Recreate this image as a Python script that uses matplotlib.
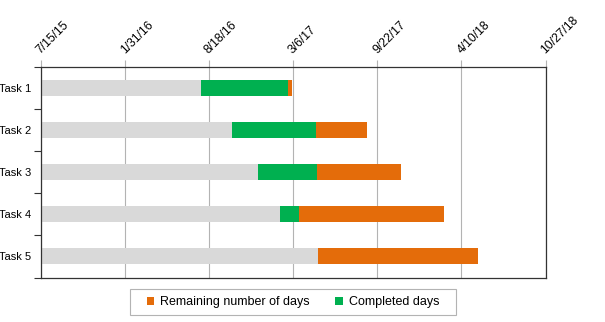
import datetime as dt

import matplotlib
matplotlib.use("Agg")
import matplotlib.pyplot as plt
from matplotlib.patches import Rectangle
from matplotlib.ticker import FixedLocator, FuncFormatter, MultipleLocator

plt.rcParams['font.family'] = ['Liberation Sans', 'DejaVu Sans']

# project data, in days counted from the first date on the axis
origin = dt.date(2015, 7, 15)
tasks = ['Task 1', 'Task 2', 'Task 3', 'Task 4', 'Task 5']
start_days = [382, 456, 517, 570, 659]
completed_days = [206, 199, 140, 44, 0]
remaining_days = [9, 121, 200, 345, 380]

gray = '#d9d9d9'
green = '#00b050'
orange = '#e46c0a'

W, H = 605, 322
fig = plt.figure(figsize=(W / 100, H / 100), dpi=100)
ax = fig.add_axes([40.5 / W, 1 - 277.5 / H, 505 / W, 210.5 / H])

y = list(range(len(tasks)))
h = 0.38
ax.barh(y, start_days, height=h, color=gray, zorder=2)
ax.barh(y, completed_days, left=start_days, height=h, color=green,
        label='Completed days', zorder=2)
done = [s + c for s, c in zip(start_days, completed_days)]
ax.barh(y, remaining_days, left=done, height=h, color=orange,
        label='Remaining number of days', zorder=2)

# date axis on top, one tick every 200 days
ax.set_xlim(0, 1200)
ax.xaxis.set_major_locator(MultipleLocator(200))


def fmt_date(x, pos):
    d = origin + dt.timedelta(days=int(round(x)))
    return f'{d.month}/{d.day}/{d.year % 100}'


ax.xaxis.set_major_formatter(FuncFormatter(fmt_date))
ax.xaxis.tick_top()
ax.tick_params(axis='x', which='major', length=5, width=0.8, color='#b3b3b3',
               labelsize=8.8, pad=4.5)
for lab in ax.get_xticklabels():
    lab.set_rotation(45)
    lab.set_ha('left')
    lab.set_va('baseline')
    lab.set_rotation_mode('anchor')
ax.grid(axis='x', color='#b3b3b3', linewidth=0.8, zorder=0)

# task axis, tasks listed top to bottom
ax.set_ylim(len(tasks) - 0.5, -0.5)
ax.set_yticks(y)
ax.set_yticklabels(tasks)
ax.yaxis.set_minor_locator(FixedLocator([i - 0.5 for i in range(len(tasks) + 1)]))
ax.tick_params(axis='y', which='major', length=0, labelsize=8, pad=6.5)
ax.tick_params(axis='y', which='minor', length=5, width=0.8, color='#333333')

for s in ax.spines.values():
    s.set_color('#333333')
    s.set_linewidth(0.9)

handles, labels = ax.get_legend_handles_labels()
leg = fig.legend(handles[::-1], labels[::-1], loc='center',
                 bbox_to_anchor=(293 / W, 1 - 302 / H), ncol=2, fontsize=9,
                 frameon=False, handlelength=0.6, handleheight=0.6,
                 handletextpad=0.5, columnspacing=2.0)
# legend box
fig.add_artist(Rectangle((130 / W, 1 - 315 / H), 326 / W, 26 / H,
                         transform=fig.transFigure, fill=False,
                         edgecolor='#b3b3b3', linewidth=0.8))

fig.savefig('out.png', dpi=100)
